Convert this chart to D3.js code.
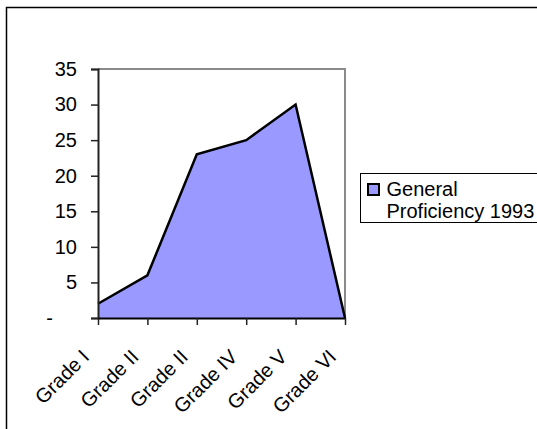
<!doctype html>
<html lang="en">
<head>
  <meta charset="utf-8">
  <title>General Proficiency 1993</title>
  <script src="https://d3js.org/d3.v7.min.js"></script>
  <style>
    body { margin: 0; background: #fff; }
    text { font-family: "Liberation Sans", Arial, sans-serif; }
  </style>
</head>
<body>
  <div id="chart"></div>
  <script type="text/javascript">

    var width = 537, height = 429;

    // data
    var categories = ['Grade I', 'Grade II', 'Grade II', 'Grade IV', 'Grade V', 'Grade VI'];
    var values = [2, 6, 23, 25, 30, 0];
    var yTicks = [0, 5, 10, 15, 20, 25, 30, 35];
    var seriesName = ['General', 'Proficiency 1993'];

    var plot = { left: 98, right: 345, top: 69, bottom: 318 };
    var fontSize = 20;

    var x = d3.scalePoint()
              .domain(d3.range(categories.length))
              .range([plot.left, plot.right]);

    var y = d3.scaleLinear()
              .domain([0, 35])
              .range([plot.bottom, plot.top]);

    var svg = d3.select('#chart')
                .append('svg')
                .attr('width', width)
                .attr('height', height);

    // outer chart border (runs off the right and bottom edges)
    svg.append('rect')
       .attr('x', 6.5).attr('y', 7.5)
       .attr('width', 700).attr('height', 700)
       .attr('fill', 'none')
       .attr('stroke', '#000')
       .attr('stroke-width', 1.5);

    // plot frame: top and right in grey
    svg.append('path')
       .attr('d', 'M' + plot.left + ',' + plot.top + 'H' + plot.right + 'V' + plot.bottom)
       .attr('fill', 'none')
       .attr('stroke', '#8a8a8a')
       .attr('stroke-width', 2);

    var area = d3.area()
                 .x(function(d, i) { return x(i); })
                 .y0(y(0))
                 .y1(function(d) { return y(d); });

    var line = d3.line()
                 .x(function(d, i) { return x(i); })
                 .y(function(d) { return y(d); });

    svg.append('path')
       .datum(values)
       .attr('d', area)
       .attr('fill', '#9999ff');

    svg.append('path')
       .datum(values)
       .attr('d', line)
       .attr('fill', 'none')
       .attr('stroke', '#000')
       .attr('stroke-width', 2.5)
       .attr('stroke-linejoin', 'miter');

    // y axis
    var yAxis = d3.axisLeft(y)
                  .tickValues(yTicks)
                  .tickSize(7)
                  .tickPadding(14)
                  .tickFormat(function(d) { return d === 0 ? '-' : d; });

    var gy = svg.append('g')
                .attr('transform', 'translate(' + plot.left + ',0)')
                .call(yAxis);
    gy.select('.domain').attr('stroke', '#222').attr('stroke-width', 2);
    gy.selectAll('.tick line').attr('stroke', '#222').attr('stroke-width', 1.5);
    gy.selectAll('.tick text')
      .attr('font-size', fontSize)
      .attr('fill', '#000')
      .attr('font-family', '"Liberation Sans", Arial, sans-serif');
    gy.selectAll('.tick')
      .filter(function(d) { return d === 0; })
      .select('text')
      .attr('x', -45);

    // x axis
    var xAxis = d3.axisBottom(x)
                  .tickSize(7)
                  .tickSizeOuter(0)
                  .tickFormat(function(i) { return categories[i]; });

    var gx = svg.append('g')
                .attr('transform', 'translate(0,' + plot.bottom + ')')
                .call(xAxis);
    gx.select('.domain').attr('stroke', '#000').attr('stroke-width', 2);
    gx.selectAll('.tick line').attr('stroke', '#222').attr('stroke-width', 1.5);
    gx.selectAll('.tick text')
      .attr('font-size', fontSize)
      .attr('fill', '#000')
      .attr('font-family', '"Liberation Sans", Arial, sans-serif')
      .attr('text-anchor', 'end')
      .attr('dy', 0)
      .attr('y', 0)
      .attr('transform', 'translate(-8,40) rotate(-45)');

    // legend
    var legend = svg.append('g').attr('transform', 'translate(360.5,173.5)');
    legend.append('rect')
          .attr('width', 200).attr('height', 49)
          .attr('fill', '#fff')
          .attr('stroke', '#000')
          .attr('stroke-width', 1);
    legend.append('rect')
          .attr('x', 7.5).attr('y', 10.5)
          .attr('width', 11).attr('height', 11)
          .attr('fill', '#9999ff')
          .attr('stroke', '#000')
          .attr('stroke-width', 2);
    legend.selectAll('text.lbl')
          .data(seriesName)
          .enter()
          .append('text')
          .attr('class', 'lbl')
          .attr('x', 26)
          .attr('y', function(d, i) { return 22 + i * 22; })
          .attr('font-size', fontSize)
          .attr('fill', '#000')
          .text(function(d) { return d; });

  </script>
</body>
</html>
